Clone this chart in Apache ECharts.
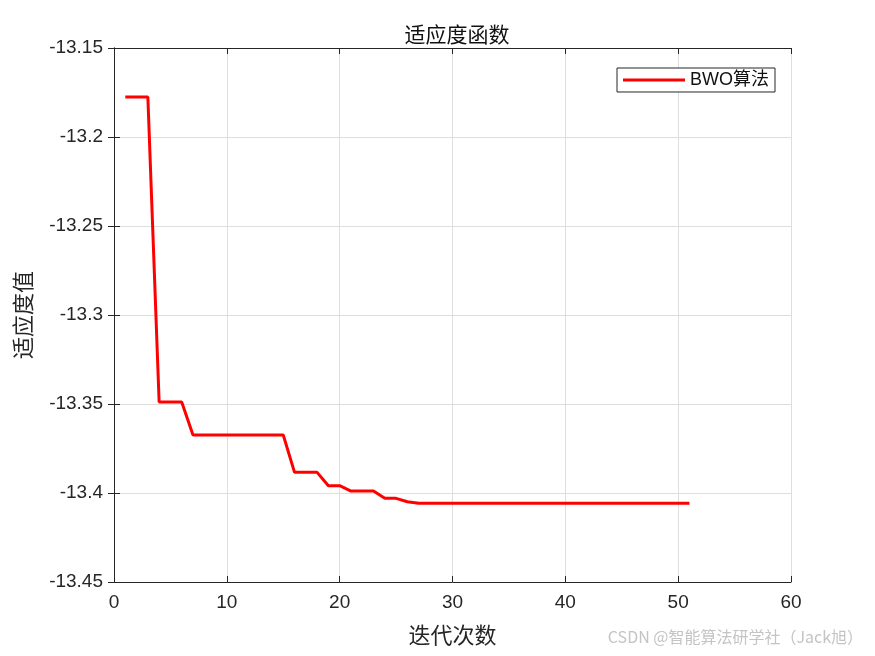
<!DOCTYPE html>
<html>
<head>
<meta charset="utf-8">
<script src="https://cdn.jsdelivr.net/npm/echarts@6/dist/echarts.min.js"></script>
<style>
  html, body { margin: 0; padding: 0; background: #fff; }
  #chart { width: 875px; height: 656px; }
</style>
</head>
<body>
<div id="chart"></div>
<script>
// 迭代次数
const iterations = [1, 2, 3, 4, 5, 6, 7, 8, 9, 10, 11, 12, 13, 14, 15, 16, 17, 18, 19, 20,
  21, 22, 23, 24, 25, 26, 27, 28, 29, 30, 31, 32, 33, 34, 35, 36, 37, 38, 39, 40,
  41, 42, 43, 44, 45, 46, 47, 48, 49, 50, 51]
// BWO算法 适应度值
const bwoFitness = [-13.1775, -13.1775, -13.1775, -13.3489, -13.3489, -13.3489,
  -13.3674, -13.3674, -13.3674, -13.3674, -13.3674, -13.3674, -13.3674, -13.3674, -13.3674,
  -13.3884, -13.3884, -13.3884, -13.3959, -13.3959, -13.3989, -13.3989, -13.3989,
  -13.4030, -13.4030, -13.4049, -13.4058, -13.4058, -13.4058, -13.4058, -13.4058,
  -13.4058, -13.4058, -13.4058, -13.4058, -13.4058, -13.4058, -13.4058, -13.4058,
  -13.4058, -13.4058, -13.4058, -13.4058, -13.4058, -13.4058, -13.4058, -13.4058,
  -13.4058, -13.4058, -13.4058, -13.4058]

const chart = echarts.init(document.getElementById('chart'))

const tickFont = { color: '#262626', fontSize: 19, fontFamily: 'Liberation Sans, Arial, sans-serif' }
const gridLine = { show: true, lineStyle: { color: '#dedede', width: 1 } }
const boxLine = { show: true, lineStyle: { color: '#262626', width: 1 } }

const option = {
  animation: false,
  title: {
    text: '适应度函数',
    left: 452, top: 19, textAlign: 'center',
    textStyle: { fontSize: 21, fontWeight: 'normal', color: '#111', fontFamily: 'Noto Sans CJK SC' }
  },
  legend: {
    right: 100, top: 68,
    orient: 'vertical',
    itemWidth: 62, itemHeight: 3,
    itemGap: 0,
    padding: [3, 6, 3, 6],
    borderColor: '#262626', borderWidth: 1, borderRadius: 0,
    backgroundColor: '#fff',
    icon: 'rect',
    textStyle: { fontSize: 18, color: '#111', fontFamily: 'Liberation Sans, Noto Sans CJK SC' },
    data: ['BWO算法']
  },
  grid: { left: 114, top: 48, width: 677, height: 534 },
  xAxis: [{
    type: 'value', min: 0, max: 60, interval: 10,
    name: '迭代次数', nameLocation: 'middle', nameGap: 42,
    nameTextStyle: { fontSize: 22, color: '#262626', fontFamily: 'Noto Sans CJK SC' },
    axisLine: boxLine,
    axisTick: { show: true, inside: true, length: 6, lineStyle: { color: '#262626' } },
    axisLabel: { ...tickFont, margin: 11 },
    splitLine: gridLine
  }, {
    type: 'value', min: 0, max: 60, interval: 10, position: 'top',
    axisLine: boxLine,
    axisTick: { show: true, inside: true, length: 6, lineStyle: { color: '#262626' } },
    axisLabel: { show: false }, splitLine: { show: false }
  }],
  yAxis: [{
    type: 'value', min: -13.45, max: -13.15, interval: 0.05,
    name: '适应度值', nameLocation: 'middle', nameGap: 80,
    nameTextStyle: { fontSize: 22, color: '#262626', fontFamily: 'Noto Sans CJK SC' },
    axisLine: boxLine,
    axisTick: { show: true, inside: true, length: 6, lineStyle: { color: '#262626' } },
    axisLabel: { ...tickFont, margin: 11, formatter: v => String(+v.toFixed(2)) },
    splitLine: gridLine
  }, {
    type: 'value', min: -13.45, max: -13.15, interval: 0.05, position: 'right',
    axisLine: boxLine,
    axisTick: { show: true, inside: true, length: 6, lineStyle: { color: '#262626' } },
    axisLabel: { show: false }, splitLine: { show: false }
  }],
  series: [{
    name: 'BWO算法',
    type: 'line',
    xAxisIndex: 0, yAxisIndex: 0,
    data: iterations.map((it, i) => [it, bwoFitness[i]]),
    showSymbol: false,
    color: '#ff0000',
    lineStyle: { width: 3, color: '#ff0000' }
  }],
  graphic: [{
    type: 'text', right: 12, top: 629,
    style: { text: 'CSDN @智能算法研学社（Jack旭）', fontSize: 16, fill: '#c4c4c4', fontFamily: 'Noto Sans CJK SC' }
  }]
}

chart.setOption(option)
window.addEventListener('resize', chart.resize)
</script>
</body>
</html>
